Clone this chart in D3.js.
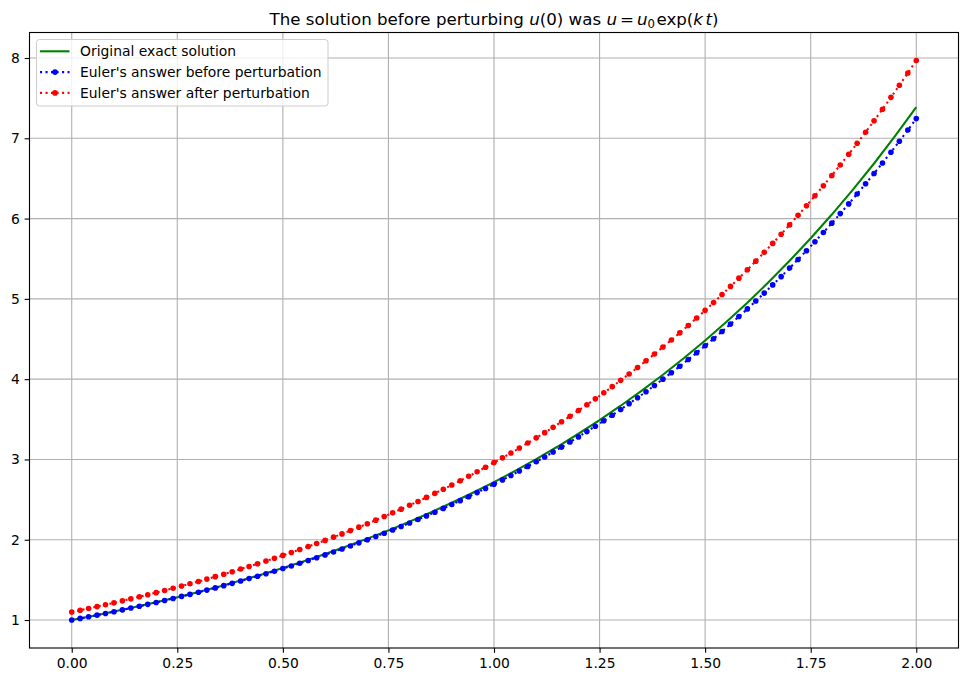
<!DOCTYPE html>
<html><head><meta charset="utf-8">
<script src="https://cdn.jsdelivr.net/npm/d3@7"></script>
<style>body{margin:0;background:#fff;} svg{display:block;font-family:"DejaVu Sans",sans-serif;}</style>
</head><body>
<svg id="c" width="968" height="682"></svg>
<script>
// Exact solution samples
const tExact = [0,0.05,0.10,0.15,0.20,0.25,0.30,0.35,0.40,0.45,0.50,0.55,0.60,0.65,0.70,0.75,0.80,0.85,0.90,0.95,1.00,1.05,1.10,1.15,1.20,1.25,1.30,1.35,1.40,1.45,1.50,1.55,1.60,1.65,1.70,1.75,1.80,1.85,1.90,1.95,2.00];
const uExact = [1.000,1.051,1.105,1.162,1.221,1.284,1.350,1.419,1.492,1.568,1.649,1.733,1.822,1.916,2.014,2.117,2.226,2.340,2.460,2.586,2.718,2.858,3.004,3.158,3.320,3.490,3.669,3.857,4.055,4.263,4.482,4.711,4.953,5.207,5.474,5.755,6.050,6.360,6.686,7.029,7.389];
// Euler time grid
const tEuler = [0,0.02,0.04,0.06,0.08,0.10,0.12,0.14,0.16,0.18,0.20,0.22,0.24,0.26,0.28,0.30,0.32,0.34,0.36,0.38,0.40,0.42,0.44,0.46,0.48,0.50,0.52,0.54,0.56,0.58,0.60,0.62,0.64,0.66,0.68,0.70,0.72,0.74,0.76,0.78,0.80,0.82,0.84,0.86,0.88,0.90,0.92,0.94,0.96,0.98,1.00,1.02,1.04,1.06,1.08,1.10,1.12,1.14,1.16,1.18,1.20,1.22,1.24,1.26,1.28,1.30,1.32,1.34,1.36,1.38,1.40,1.42,1.44,1.46,1.48,1.50,1.52,1.54,1.56,1.58,1.60,1.62,1.64,1.66,1.68,1.70,1.72,1.74,1.76,1.78,1.80,1.82,1.84,1.86,1.88,1.90,1.92,1.94,1.96,1.98,2.00];
const uBefore = [1.000,1.020,1.040,1.061,1.082,1.104,1.126,1.149,1.172,1.195,1.219,1.243,1.268,1.294,1.319,1.346,1.373,1.400,1.428,1.457,1.486,1.516,1.546,1.577,1.608,1.641,1.673,1.707,1.741,1.776,1.811,1.848,1.885,1.922,1.961,2.000,2.040,2.081,2.122,2.165,2.208,2.252,2.297,2.343,2.390,2.438,2.487,2.536,2.587,2.639,2.692,2.745,2.800,2.856,2.913,2.972,3.031,3.092,3.154,3.217,3.281,3.347,3.414,3.482,3.551,3.623,3.695,3.769,3.844,3.921,4.000,4.080,4.161,4.244,4.329,4.416,4.504,4.594,4.686,4.780,4.875,4.973,5.072,5.174,5.277,5.383,5.491,5.600,5.712,5.827,5.943,6.062,6.183,6.307,6.433,6.562,6.693,6.827,6.963,7.103,7.245];
const uAfter = [1.100,1.122,1.144,1.167,1.191,1.214,1.239,1.264,1.289,1.315,1.341,1.368,1.395,1.423,1.451,1.480,1.510,1.540,1.571,1.602,1.635,1.667,1.701,1.735,1.769,1.805,1.841,1.878,1.915,1.953,1.992,2.032,2.073,2.114,2.157,2.200,2.244,2.289,2.335,2.381,2.429,2.477,2.527,2.578,2.629,2.682,2.735,2.790,2.846,2.903,2.961,3.020,3.080,3.142,3.205,3.269,3.334,3.401,3.469,3.538,3.609,3.681,3.755,3.830,3.907,3.985,4.064,4.146,4.229,4.313,4.400,4.488,4.577,4.669,4.762,4.857,4.955,5.054,5.155,5.258,5.363,5.470,5.580,5.691,5.805,5.921,6.040,6.160,6.284,6.409,6.537,6.668,6.802,6.938,7.076,7.218,7.362,7.510,7.660,7.813,7.969];
const xTicks = [0,0.25,0.5,0.75,1.0,1.25,1.5,1.75,2.0];
const xTickLabels = ["0.00","0.25","0.50","0.75","1.00","1.25","1.50","1.75","2.00"];
const yTicks = [1,2,3,4,5,6,7,8];
const seriesNames = ["Original exact solution","Euler's answer before perturbation","Euler's answer after perturbation"];
const seriesColors = ["green","blue","red"];

const svg = d3.select("#c");
const L = 29.5, R = 958.5, T = 32.5, B = 648;
const x = d3.scaleLinear().domain([-0.1, 2.1]).range([L, R]);
const y = d3.scaleLinear().domain([0.6516, 8.3176]).range([B, T]);
const LW = 2.08, DASH = "2.08,3.43", MR = 2.8, FS = "13.89px";

// grid
const g = svg.append("g");
g.selectAll(".gx").data(xTicks).enter().append("line")
  .attr("x1", d=>x(d)).attr("x2", d=>x(d)).attr("y1", T).attr("y2", B)
  .attr("stroke", "#b0b0b0").attr("stroke-width", 1.11);
g.selectAll(".gy").data(yTicks).enter().append("line")
  .attr("y1", d=>y(d)).attr("y2", d=>y(d)).attr("x1", L).attr("x2", R)
  .attr("stroke", "#b0b0b0").attr("stroke-width", 1.11);

svg.append("clipPath").attr("id","cp").append("rect")
  .attr("x",L).attr("y",T).attr("width",R-L).attr("height",B-T);
const plot = svg.append("g").attr("clip-path","url(#cp)");

const line = d3.line().x(d=>x(d[0])).y(d=>y(d[1]));
const exactData = tExact.map((t,i)=>[t,uExact[i]]);
const beforeData = tEuler.map((t,i)=>[t,uBefore[i]]);
const afterData = tEuler.map((t,i)=>[t,uAfter[i]]);

plot.append("path").datum(exactData).attr("d", line).attr("fill","none")
  .attr("stroke","green").attr("stroke-width",LW);
[[beforeData,"blue"],[afterData,"red"]].forEach(([data,col])=>{
  plot.append("path").datum(data).attr("d", line).attr("fill","none")
    .attr("stroke",col).attr("stroke-width",LW).attr("stroke-dasharray",DASH);
  plot.selectAll(null).data(data).enter().append("circle")
    .attr("cx", d=>x(d[0])).attr("cy", d=>y(d[1])).attr("r", MR).attr("fill", col);
});

// axes
const xAxis = d3.axisBottom(x).tickValues(xTicks).tickFormat((d,i)=>xTickLabels[i]).tickSize(4.86).tickPadding(4.86);
const yAxis = d3.axisLeft(y).tickValues(yTicks).tickFormat(d3.format("d")).tickSize(4.86).tickPadding(4.86);
const gx = svg.append("g").attr("transform",`translate(0,${B})`).call(xAxis);
const gy = svg.append("g").attr("transform",`translate(${L},0)`).call(yAxis);
[gx,gy].forEach(a=>{
  a.select(".domain").remove();
  a.selectAll(".tick line").attr("stroke","#000").attr("stroke-width",1.11);
  a.selectAll(".tick text").attr("font-family","DejaVu Sans").attr("font-size",FS).attr("fill","#000");
});
svg.append("rect").attr("x",L).attr("y",T).attr("width",R-L).attr("height",B-T)
  .attr("fill","none").attr("stroke","#000").attr("stroke-width",1.11);

// title
const title = svg.append("text").attr("x",(L+R)/2).attr("y",25).attr("text-anchor","middle")
  .attr("font-size","16.67px").attr("fill","#000");
title.append("tspan").text("The solution before perturbing ");
title.append("tspan").attr("font-style","italic").text("u");
title.append("tspan").text("(0) was ");
title.append("tspan").attr("font-style","italic").text("u");
title.append("tspan").attr("dx",3).text("=");
title.append("tspan").attr("dx",3).attr("font-style","italic").text("u");
title.append("tspan").attr("font-size","11.7px").attr("dy",2.5).text("0");
title.append("tspan").attr("dy",-2.5).attr("dx",1.5).text("exp(");
title.append("tspan").attr("font-style","italic").text("k");
title.append("tspan").attr("dx",2.5).attr("font-style","italic").text("t");
title.append("tspan").text(")");

// legend
const lg = svg.append("g");
lg.append("rect").attr("x",36.5).attr("y",39.5).attr("width",291.5).attr("height",66.5).attr("rx",3)
  .attr("fill","#fff").attr("fill-opacity",0.8).attr("stroke","#cccccc").attr("stroke-width",1);
seriesNames.forEach((name,i)=>{
  const yy = 51.3 + i*20.8;
  const ln = lg.append("line").attr("x1",40).attr("x2",69.5).attr("y1",yy).attr("y2",yy)
    .attr("stroke",seriesColors[i]).attr("stroke-width",LW);
  if(i>0){
    ln.attr("stroke-dasharray",DASH);
    lg.append("circle").attr("cx",55).attr("cy",yy).attr("r",MR).attr("fill",seriesColors[i]);
  }
  lg.append("text").attr("x",80).attr("y",yy+5).attr("font-size",FS).attr("fill","#000").text(name);
});
</script>
</body></html>
